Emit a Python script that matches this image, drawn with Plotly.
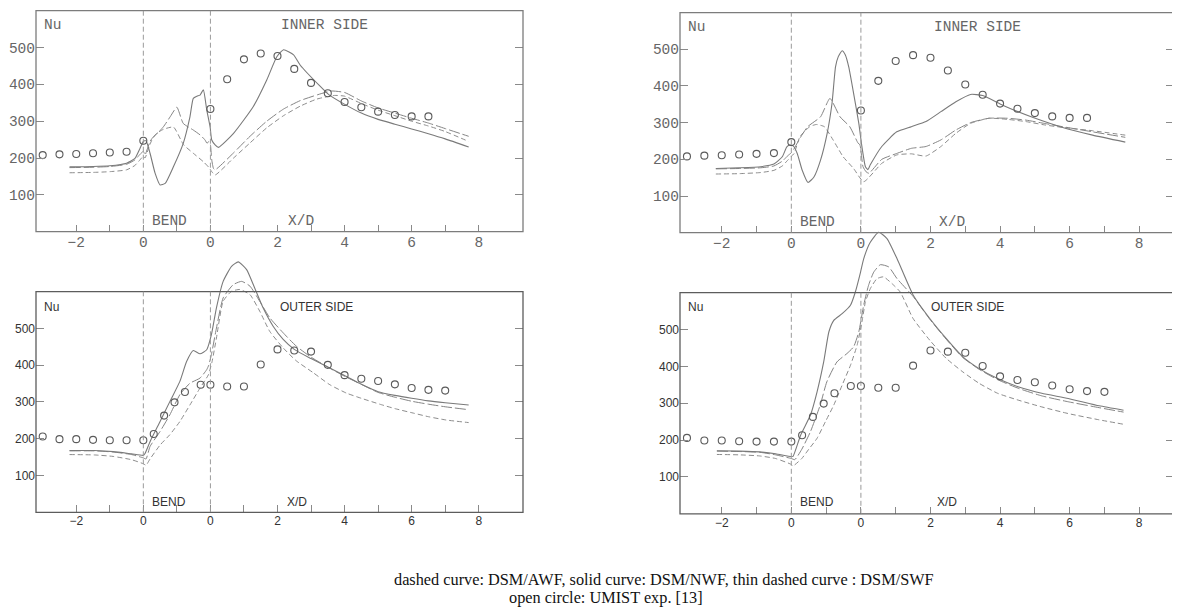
import plotly.graph_objects as go

# the page body has an 8px margin, so the figure is sized to the remaining area
PAGE_OFF = 8
FW, FH = 1172, 608

# x coordinate used for plotting: upstream X/D (<0), bend 0..2, downstream X/D + 2
tick_vals = list(range(-2, 11))
tick_text = ["\u22122", "", "0", "", "0", "", "2", "", "4", "", "6", "", "8"]
bend_bounds = [0, 2]
y_tick_vals = [100, 200, 300, 400, 500]

# experiment (UMIST) - inner side
exp_in_s = [-3, -2.5, -2, -1.5, -1, -0.5, 0, 2, 2.5, 3, 3.5, 4, 4.5, 5, 5.5, 6, 6.5, 7, 7.5, 8, 8.5]
exp_in_nu = [208, 210, 211, 213, 215, 217, 247, 333, 414, 468, 484, 477, 442, 404, 376, 352, 338, 326, 317, 313, 313]
# experiment (UMIST) - outer side
exp_out_s = [-3, -2.5, -2, -1.5, -1, -0.5, 0, 0.31, 0.62, 0.93, 1.24, 1.71, 2, 2.5, 3, 3.5, 4, 4.5, 5, 5.5, 6, 6.5, 7, 7.5, 8, 8.5, 9]
exp_out_nu = [206, 199, 199, 197, 196, 196, 196, 213, 263, 299, 327, 347, 347, 342, 342, 402, 443, 440, 437, 401, 373, 363, 357, 348, 338, 333, 331]

# ---- top-left (inner side) ----
tl_nwf_s = [-2.2, -1.5, -1.0, -0.5, -0.25, -0.1, 0.0, 0.08, 0.2, 0.35, 0.5, 0.65, 0.9, 1.19, 1.39, 1.49, 1.6, 1.69, 1.79, 1.89, 1.99, 2.04, 2.14, 2.24, 2.69, 3.28, 3.68, 3.98, 4.18, 4.48, 4.68, 5.27, 5.52, 6.02, 6.5, 7.0, 7.5, 8.0, 8.5, 9.0, 9.7]
tl_nwf = [176, 177, 179, 186, 199, 226, 245, 247, 213, 159, 127, 131, 177, 240, 312, 362, 368, 371, 385, 331, 285, 249, 236, 229, 267, 340, 412, 475, 494, 480, 452, 395, 373, 345, 322, 305, 292, 279, 266, 252, 230]
tl_awf_s = [-2.2, -1.5, -1.0, -0.5, -0.25, -0.1, 0.0, 0.05, 0.12, 0.2, 0.3, 0.45, 0.6, 0.8, 1.0, 1.19, 1.49, 1.69, 1.84, 1.9, 1.95, 2.0, 2.04, 2.09, 2.14, 2.69, 3.18, 3.68, 4.18, 4.68, 5.2, 5.6, 6.0, 6.5, 7.0, 7.5, 8.0, 8.5, 9.0, 9.7]
tl_awf = [174, 175, 177, 183, 195, 210, 218, 208, 225, 245, 258, 270, 285, 312, 338, 294, 276, 263, 249, 240, 245, 236, 195, 172, 168, 214, 259, 300, 333, 356, 372, 382, 378, 355, 336, 322, 308, 295, 280, 259]
tl_swf_s = [-2.2, -1.5, -1.0, -0.5, -0.25, -0.1, 0.0, 0.05, 0.15, 0.25, 0.4, 0.6, 0.9, 1.2, 1.49, 1.79, 1.95, 2.04, 2.14, 2.69, 3.18, 3.68, 4.18, 4.68, 5.17, 5.7, 6.0, 6.5, 7.0, 7.5, 8.0, 8.5, 9.0, 9.7]
tl_swf = [160, 161, 163, 168, 180, 195, 205, 200, 225, 248, 267, 278, 284, 236, 213, 190, 175, 163, 154, 200, 241, 282, 315, 341, 360, 370, 368, 348, 330, 315, 300, 287, 272, 245]

# ---- top-right (inner side) ----
tr_nwf_s = [-2.17, -1.5, -0.88, -0.5, -0.26, -0.13, -0.04, 0.06, 0.17, 0.31, 0.48, 0.65, 0.84, 1.03, 1.17, 1.27, 1.35, 1.46, 1.55, 1.65, 1.79, 1.94, 2.03, 2.13, 2.2, 2.27, 2.6, 3.03, 3.45, 3.87, 4.3, 4.73, 5.15, 5.5, 6.0, 6.43, 6.95, 7.8, 8.66, 9.6]
tr_nwf = [175, 177, 180, 187, 207, 234, 239, 236, 216, 171, 137, 152, 198, 271, 353, 452, 480, 496, 485, 452, 380, 298, 234, 180, 172, 185, 235, 275, 289, 303, 330, 357, 377, 374, 351, 333, 314, 287, 266, 247]
tr_awf_s = [-2.17, -1.5, -0.88, -0.5, -0.26, -0.1, 0.0, 0.08, 0.25, 0.47, 0.84, 1.11, 1.4, 1.68, 1.92, 1.97, 2.0, 2.06, 2.15, 2.23, 2.6, 3.03, 3.45, 3.87, 4.3, 4.73, 5.15, 5.68, 6.21, 6.74, 7.27, 7.8, 8.66, 9.6]
tr_awf = [174, 175, 177, 182, 195, 210, 218, 229, 258, 289, 316, 366, 316, 289, 244, 240, 225, 180, 166, 162, 200, 216, 230, 235, 253, 280, 300, 312, 312, 307, 298, 289, 275, 260]
tr_swf_s = [-2.17, -1.5, -0.88, -0.5, -0.26, -0.1, 0.0, 0.08, 0.25, 0.53, 0.72, 0.95, 1.2, 1.49, 1.79, 2.08, 2.6, 3.03, 3.45, 3.87, 4.3, 4.73, 5.15, 5.68, 6.21, 6.74, 7.27, 7.8, 8.66, 9.6]
tr_swf = [160, 161, 164, 170, 182, 198, 208, 216, 262, 289, 295, 289, 253, 207, 175, 139, 189, 212, 215, 209, 235, 271, 298, 312, 309, 303, 294, 287, 278, 266]

# ---- bottom-left (outer side) ----
bl_nwf_s = [-2.2, -1.46, -0.9, -0.35, 0.0, 0.05, 0.2, 0.5, 0.79, 1.09, 1.29, 1.49, 1.69, 1.89, 2.03, 2.18, 2.38, 2.63, 2.83, 3.08, 3.32, 3.57, 3.87, 4.17, 4.5, 5.0, 5.5, 6.0, 6.5, 7.0, 7.5, 8.0, 8.5, 9.0, 9.7]
bl_nwf = [168, 168, 165, 159, 155, 160, 192, 247, 301, 356, 410, 440, 431, 442, 483, 556, 628, 669, 681, 660, 610, 556, 506, 470, 443, 418, 395, 372, 348, 328, 318, 310, 303, 298, 292]
bl_awf_s = [-2.2, -1.46, -0.9, -0.35, 0.0, 0.08, 0.2, 0.5, 0.79, 1.09, 1.39, 1.69, 1.89, 1.95, 2.03, 2.18, 2.38, 2.68, 2.93, 3.18, 3.47, 3.77, 4.17, 4.56, 5.0, 5.5, 6.0, 6.5, 7.0, 7.5, 8.0, 8.5, 9.0, 9.7]
bl_awf = [167, 167, 164, 157, 148, 145, 179, 220, 265, 320, 351, 365, 388, 400, 429, 501, 583, 619, 628, 615, 574, 529, 488, 452, 422, 395, 370, 348, 326, 313, 302, 294, 287, 279]
bl_swf_s = [-2.2, -1.46, -0.9, -0.35, 0.0, 0.08, 0.2, 0.5, 0.79, 1.09, 1.39, 1.69, 1.94, 2.05, 2.18, 2.38, 2.63, 2.88, 3.18, 3.47, 3.77, 4.17, 4.56, 5.06, 5.56, 6.06, 6.5, 7.05, 7.5, 8.04, 8.5, 9.03, 9.7]
bl_swf = [157, 156, 152, 143, 132, 128, 145, 183, 211, 247, 292, 338, 374, 410, 474, 574, 601, 606, 592, 547, 492, 447, 412, 380, 347, 324, 310, 294, 282, 270, 260, 251, 244]

# ---- bottom-right (outer side) ----
br_nwf_s = [-2.14, -1.5, -0.91, -0.45, 0.0, 0.05, 0.27, 0.55, 0.74, 0.93, 1.08, 1.22, 1.46, 1.7, 1.84, 1.99, 2.08, 2.27, 2.51, 2.75, 3.04, 3.5, 3.98, 4.45, 4.93, 5.4, 5.93, 6.54, 7.2, 7.96, 8.85, 9.55]
br_nwf = [171, 170, 168, 163, 155, 156, 214, 268, 331, 412, 494, 525, 543, 566, 602, 656, 692, 737, 764, 747, 692, 594, 530, 476, 426, 394, 367, 344, 327, 313, 293, 281]
br_awf_s = [-2.14, -1.5, -0.91, -0.45, 0.0, 0.1, 0.3, 0.55, 0.83, 1.02, 1.31, 1.6, 1.79, 1.94, 2.08, 2.22, 2.37, 2.56, 2.8, 3.04, 3.5, 3.98, 4.45, 4.93, 5.4, 5.93, 6.54, 7.2, 7.96, 8.85, 9.55]
br_awf = [170, 169, 167, 160, 150, 147, 175, 223, 295, 358, 412, 435, 453, 494, 566, 620, 656, 676, 670, 638, 590, 528, 474, 424, 392, 364, 340, 320, 304, 288, 276]
br_swf_s = [-2.14, -1.5, -0.91, -0.45, 0.0, 0.05, 0.3, 0.5, 0.74, 0.98, 1.22, 1.46, 1.7, 1.89, 2.03, 2.13, 2.27, 2.46, 2.65, 2.89, 3.13, 3.5, 3.98, 4.45, 4.93, 5.4, 5.93, 6.54, 7.2, 7.96, 8.85, 9.55]
br_swf = [161, 160, 157, 150, 134, 130, 150, 175, 205, 250, 295, 349, 403, 457, 521, 575, 611, 638, 643, 625, 602, 530, 471, 422, 385, 354, 327, 308, 290, 272, 255, 243]

caption_1 = "dashed curve: DSM/AWF, solid curve: DSM/NWF, thin dashed curve : DSM/SWF"
caption_2 = "open circle: UMIST exp. [13]"

MONO = dict(family="Liberation Mono, Courier New, monospace", size=14.5, color="#666666")
SANS = dict(family="Liberation Sans, Arial, sans-serif", size=12, color="#333333")


def fx(px):
    return (px - PAGE_OFF) / FW


def fy(py):
    return 1 - (py - PAGE_OFF) / FH


panels = [
    dict(xpx=(36, 523), y0px=231.7, per=0.3683, ymax=600, xr=(-3.2, 11.32), font=MONO,
         frame="#7c7c7c", label="INNER SIDE", lab_x=5.4, nu_y=562, bend_y=29, xd_x=4.7,
         exp=(exp_in_s, exp_in_nu),
         curves=[(tl_swf_s, tl_swf), (tl_awf_s, tl_awf), (tl_nwf_s, tl_nwf)]),
    dict(xpx=(680, 1174), y0px=232.7, per=0.3668, ymax=600, xr=(-3.2, 11.0), font=MONO,
         frame="#7c7c7c", label="INNER SIDE", lab_x=5.35, nu_y=560, bend_y=30, xd_x=4.62,
         exp=(exp_in_s, exp_in_nu),
         curves=[(tr_swf_s, tr_swf), (tr_awf_s, tr_awf), (tr_nwf_s, tr_nwf)]),
    dict(xpx=(36, 523), y0px=512.3, per=0.3677, ymax=700, xr=(-3.2, 11.32), font=SANS,
         frame="#5c5c5c", label="OUTER SIDE", lab_x=5.16, nu_y=559, bend_y=27, xd_x=4.57,
         exp=(exp_out_s, exp_out_nu),
         curves=[(bl_swf_s, bl_swf), (bl_awf_s, bl_awf), (bl_nwf_s, bl_nwf)]),
    dict(xpx=(680, 1174), y0px=513.8, per=0.3685, ymax=790, xr=(-3.2, 11.0), font=SANS,
         frame="#5c5c5c", label="OUTER SIDE", lab_x=5.06, nu_y=562, bend_y=33, xd_x=4.48,
         exp=(exp_out_s, exp_out_nu),
         curves=[(br_swf_s, br_swf), (br_awf_s, br_awf), (br_nwf_s, br_nwf)]),
]

curve_styles = [
    dict(color="#8c8c8c", width=1.0, dash="5px,3px", shape="spline", smoothing=0.5),   # thin dashed: DSM/SWF
    dict(color="#848484", width=1.0, dash="11px,3px", shape="spline", smoothing=0.5),  # dashed: DSM/AWF
    dict(color="#7a7a7a", width=1.1, dash="solid", shape="spline", smoothing=0.5),     # solid: DSM/NWF
]
curve_names = ["DSM/SWF", "DSM/AWF", "DSM/NWF"]

fig = go.Figure()
shapes = []
annotations = []
layout_axes = {}

for i, p in enumerate(panels, start=1):
    xa = "x" if i == 1 else f"x{i}"
    ya = "y" if i == 1 else f"y{i}"
    xkey = "xaxis" if i == 1 else f"xaxis{i}"
    ykey = "yaxis" if i == 1 else f"yaxis{i}"
    xd = (fx(p["xpx"][0]), fx(p["xpx"][1]))
    yb = fy(p["y0px"])
    yt = fy(p["y0px"] - p["ymax"] * p["per"])
    y600 = fy(p["y0px"] - 600 * p["per"])
    f = p["font"]

    for (sx, sy), st, nm in zip(p["curves"], curve_styles, curve_names):
        fig.add_trace(go.Scatter(x=sx, y=sy, mode="lines", line=st, name=nm,
                                 xaxis=xa, yaxis=ya, showlegend=False, hoverinfo="skip"))
    fig.add_trace(go.Scatter(x=p["exp"][0], y=p["exp"][1], mode="markers", name="UMIST exp.",
                             marker=dict(symbol="circle-open", size=7, color="#5a5a5a",
                                         line=dict(width=1.1, color="#5a5a5a")),
                             xaxis=xa, yaxis=ya, showlegend=False, cliponaxis=False))

    layout_axes[xkey] = dict(domain=list(xd), range=list(p["xr"]), anchor=ya,
                             tickmode="array", tickvals=tick_vals, ticktext=tick_text,
                             ticks="inside", ticklen=7, tickcolor="#8a8a8a", tickwidth=1,
                             showgrid=False, zeroline=False, showline=False,
                             tickfont=f, automargin=False, fixedrange=True)
    layout_axes[ykey] = dict(domain=[yb, yt], range=[0, p["ymax"]], anchor=xa,
                             tickmode="array", tickvals=y_tick_vals,
                             ticks="inside", ticklen=8, tickcolor="#8a8a8a", tickwidth=1,
                             mirror="ticks", showgrid=False, zeroline=False, showline=False,
                             tickfont=f, automargin=False, fixedrange=True)

    # frame box
    shapes.append(dict(type="rect", xref="paper", yref="paper", x0=xd[0], x1=xd[1],
                       y0=yb, y1=y600, line=dict(color=p["frame"], width=1.3),
                       fillcolor="rgba(0,0,0,0)", layer="above"))
    # bend boundaries
    for b in bend_bounds:
        shapes.append(dict(type="line", xref=xa, yref=ya, x0=b, x1=b, y0=0, y1=600,
                           line=dict(color="#9a9a9a", width=1, dash="5px,3px")))

    annotations += [
        dict(x=-3.02, y=p["nu_y"], xref=xa, yref=ya, text="Nu", showarrow=False,
             xanchor="left", yanchor="middle", font=f),
        dict(x=p["lab_x"], y=p["nu_y"], xref=xa, yref=ya, text=p["label"], showarrow=False,
             xanchor="center", yanchor="middle", font=f),
        dict(x=0.2, y=p["bend_y"], xref=xa, yref=ya, text="BEND", showarrow=False,
             xanchor="left", yanchor="middle", font=f),
        dict(x=p["xd_x"], y=p["bend_y"], xref=xa, yref=ya, text="X/D", showarrow=False,
             xanchor="center", yanchor="middle", font=f),
    ]

cap_font = dict(family="Liberation Serif, Times New Roman, serif", size=16.3, color="#111111")
annotations += [
    dict(x=fx(664), y=fy(579), xref="paper", yref="paper", text=caption_1, showarrow=False,
         xanchor="center", yanchor="middle", font=cap_font),
    dict(x=fx(606), y=fy(597), xref="paper", yref="paper", text=caption_2, showarrow=False,
         xanchor="center", yanchor="middle", font=cap_font),
]

fig.update_layout(
    width=FW, height=FH, autosize=False,
    margin=dict(l=0, r=0, t=0, b=0),
    paper_bgcolor="white", plot_bgcolor="rgba(0,0,0,0)",
    showlegend=False, shapes=shapes, annotations=annotations,
    **layout_axes,
)

fig.write_html("out.html")
